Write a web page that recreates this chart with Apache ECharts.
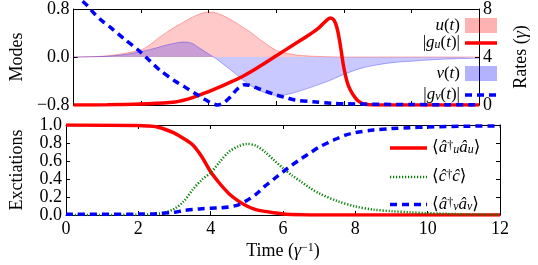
<!DOCTYPE html>
<html><head><meta charset="utf-8">
<script src="https://cdn.jsdelivr.net/npm/echarts@6/dist/echarts.min.js"></script>
<style>html,body{margin:0;padding:0;background:#fff}#c{width:538px;height:265px}</style>
</head><body><div id="c"></div>
<script>
// ---------- Top panel: modes (left axis) ----------
var tU = [0, 0.5, 1.0, 1.5, 2.0, 2.25, 2.5, 2.75, 3.0, 3.25, 3.5, 3.75, 4.0, 4.25, 4.5, 4.75, 5.0, 5.25, 5.5, 5.75, 6.0, 6.25, 6.5, 7.0, 7.5, 8.0, 12];
var uVals = [0.0, 0.005, 0.02, 0.06, 0.12, 0.20, 0.31, 0.41, 0.50, 0.58, 0.66, 0.72, 0.75, 0.73, 0.67, 0.59, 0.50, 0.41, 0.30, 0.20, 0.11, 0.07, 0.04, 0.015, 0.005, 0.0, 0.0];
var tV = [0, 0.5, 1.0, 1.5, 2.0, 2.5, 2.75, 3.0, 3.25, 3.5, 3.75, 4.0, 4.25, 4.5, 4.75, 5.0, 5.25, 5.5, 5.75, 6.0, 6.25, 6.5, 7.0, 7.5, 8.0, 8.5, 9.0, 9.5, 10.0, 10.5, 11.0, 11.5, 12];
var vVals = [0, 0.003, 0.012, 0.04, 0.09, 0.16, 0.20, 0.23, 0.25, 0.23, 0.14, 0.05, -0.04, -0.15, -0.26, -0.38, -0.48, -0.56, -0.61, -0.64, -0.63, -0.60, -0.51, -0.41, -0.29, -0.19, -0.13, -0.09, -0.07, -0.05, -0.035, -0.025, -0.02];
// ---------- Top panel: rates (right axis) ----------
var tGu = [0, 1, 2, 2.5, 3.0, 3.5, 4.0, 4.5, 5.0, 5.5, 6.0, 6.5, 7.0, 7.25, 7.45, 7.6, 7.7, 7.8, 7.9, 8.0, 8.1, 8.2, 8.3, 8.4, 8.5, 8.6, 8.8, 9, 12];
var guVals = [0.0, 0.02, 0.08, 0.15, 0.25, 0.6, 1.12, 1.72, 2.38, 3.2, 4.1, 5.0, 5.9, 6.4, 6.95, 7.25, 7.1, 6.4, 4.9, 3.1, 1.9, 1.2, 0.75, 0.4, 0.2, 0.08, 0.02, 0, 0];
var tGv = [0, 0.39, 0.62, 0.87, 1.1, 1.5, 1.93, 2.25, 2.56, 3.0, 3.29, 3.6, 3.84, 4.05, 4.27, 4.45, 4.65, 4.8, 4.93, 5.05, 5.2, 5.47, 5.75, 6.01, 6.3, 6.56, 7.1, 7.65, 8.1, 9.0, 10.0, 11, 12];
var gvVals = [9.3, 8.33, 7.6, 6.95, 6.45, 5.5, 4.54, 3.7, 2.89, 2.0, 1.51, 0.95, 0.55, 0.2, 0.0, 0.2, 0.69, 1.2, 1.51, 1.68, 1.65, 1.37, 1.08, 0.82, 0.6, 0.41, 0.27, 0.14, 0.1, 0.06, 0.04, 0.02, 0.01];
// ---------- Bottom panel: excitations ----------
var tAu = [0, 2, 2.25, 2.5, 2.75, 3.0, 3.25, 3.5, 3.75, 4.0, 4.25, 4.5, 4.75, 5.0, 5.25, 5.5, 5.75, 6.0, 6.5, 7, 12];
var auVals = [1.0, 0.995, 0.99, 0.98, 0.95, 0.91, 0.85, 0.78, 0.65, 0.48, 0.35, 0.24, 0.16, 0.10, 0.06, 0.04, 0.025, 0.012, 0.003, 0.0, 0.0];
var tC = [0, 2, 2.5, 2.75, 3.0, 3.25, 3.5, 3.75, 4.0, 4.25, 4.5, 4.75, 5.0, 5.25, 5.5, 5.75, 6.0, 6.25, 6.5, 6.75, 7.0, 7.5, 8.0, 8.5, 9.0, 9.5, 10, 11, 12];
var cVals = [0, 0.003, 0.01, 0.03, 0.07, 0.15, 0.28, 0.39, 0.47, 0.59, 0.70, 0.76, 0.79, 0.77, 0.70, 0.61, 0.52, 0.44, 0.37, 0.30, 0.24, 0.155, 0.095, 0.06, 0.042, 0.03, 0.02, 0.008, 0.003];
var tAv = [0, 2, 2.5, 3.0, 3.25, 3.5, 3.75, 4.0, 4.25, 4.5, 4.75, 5.0, 5.25, 5.5, 5.75, 6.0, 6.25, 6.5, 6.75, 7.0, 7.25, 7.5, 7.75, 8.0, 8.5, 9.0, 9.5, 10, 11, 12];
var avVals = [0.008, 0.01, 0.015, 0.03, 0.05, 0.06, 0.07, 0.075, 0.08, 0.09, 0.11, 0.16, 0.23, 0.32, 0.40, 0.48, 0.555, 0.625, 0.69, 0.755, 0.805, 0.85, 0.89, 0.915, 0.945, 0.96, 0.97, 0.978, 0.986, 0.99];
// ---------- Ticks ----------
var timeTicks = [0, 12, 2];
var modeTicks = [-0.8, 0.8, 0.8];
var rateTicks = [0, 8, 4];
var excTicks = [0, 1, 0.2];

function pairs(t, v) { return t.map(function (x, i) { return [x, v[i]]; }); }

var SERIF = '"Liberation Serif", "DejaVu Serif", serif';
var FS = 18;
function richStyles() {
  return {
    r: { fontFamily: SERIF, fontSize: 17, color: '#000', lineHeight: 16 },
    i: { fontFamily: SERIF, fontSize: 17, fontStyle: 'italic', color: '#000', lineHeight: 16 },
    sub: { fontFamily: SERIF, fontSize: 12, fontStyle: 'italic', color: '#000', verticalAlign: 'bottom', lineHeight: 8, padding: [8, 0, 0, 0] },
    sup: { fontFamily: SERIF, fontSize: 12, color: '#000', verticalAlign: 'top', lineHeight: 8, padding: [0, 0, 8, 0] }
  };
}
var legendText = {
  'u(t)': '{i|u}{r|(}{i|t}{r|)}',
  '|gu(t)|': '{r||}{i|g}{sub|u}{r|(}{i|t}{r|)|}',
  'v(t)': '{i|v}{r|(}{i|t}{r|)}',
  '|gv(t)|': '{r||}{i|g}{sub|v}{r|(}{i|t}{r|)|}',
  'au': '{r|⟨}{i|â}{sup|†}{sub|u}{i|â}{sub|u}{r|⟩}',
  'c': '{r|⟨}{i|ĉ}{sup|†}{i|ĉ}{r|⟩}',
  'av': '{r|⟨}{i|â}{sup|†}{sub|v}{i|â}{sub|v}{r|⟩}'
};
function fmtLegend(n) { return legendText[n] || n; }

function redLine() { return { color: '#ff0000', width: 3.5, type: 'solid' }; }
function blueDash() { return { color: '#0000ff', width: 3.5, type: [7, 5] }; }
function greenDot() { return { color: '#008000', width: 2.5, type: [1.2, 1.8] }; }

// one legend component per entry so each row sits exactly where it should
function legendItem(name, side, offset, top, w, icon, ls) {
  var d = { name: name };
  if (icon) { d.icon = icon; } else { d.itemStyle = { opacity: 0 }; d.lineStyle = ls; }
  var l = { orient: 'vertical', align: side === 'right' ? 'right' : 'left', top: top, itemWidth: w, itemHeight: 15, padding: 0,
    formatter: fmtLegend, textStyle: { lineHeight: 16, rich: richStyles() }, data: [d] };
  l[side] = offset;
  return l;
}

function xAx(gi, pos, labels) {
  return {
    type: 'value', gridIndex: gi, position: pos, min: timeTicks[0], max: timeTicks[1], interval: timeTicks[2],
    axisLine: { show: true, onZero: false, lineStyle: { color: '#000', width: 1 } },
    axisTick: { show: true, inside: true, length: 4, lineStyle: { color: '#000' } },
    splitLine: { show: false },
    axisLabel: { show: labels, color: '#000', fontFamily: SERIF, fontSize: FS, margin: 5 },
    name: (labels ? 'Time ({i|γ}{sup|−1})' : ''), nameLocation: 'middle', nameGap: 27,
    nameTextStyle: { color: '#000', fontFamily: SERIF, fontSize: FS, rich: { i: { fontFamily: SERIF, fontSize: FS, fontStyle: 'italic' }, sup: { fontFamily: SERIF, fontSize: 12, verticalAlign: 'top', lineHeight: 12, padding: [0, 0, 10, 0] } } }
  };
}
function yAx(gi, pos, ticks, labels, fmt, name, gap) {
  return {
    type: 'value', gridIndex: gi, position: pos, min: ticks[0], max: ticks[1], interval: ticks[2],
    axisLine: { show: true, onZero: false, lineStyle: { color: '#000', width: 1 } },
    axisTick: { show: true, inside: true, length: 4, lineStyle: { color: '#000' } },
    splitLine: { show: false },
    axisLabel: { show: labels, color: '#000', fontFamily: SERIF, fontSize: FS, margin: 4, formatter: fmt },
    name: name || '', nameLocation: 'middle', nameGap: gap || 0, nameRotate: 90,
    nameTextStyle: { color: '#000', fontFamily: SERIF, fontSize: FS, rich: { i: { fontFamily: SERIF, fontSize: FS, fontStyle: 'italic' } } }
  };
}
function f1(v) { var s = Math.abs(v).toFixed(1); return (v < -1e-9 ? '−' : '') + s; }

var chart = echarts.init(document.getElementById('c'), null, { renderer: 'canvas' });
var option = {
  animation: false,
  backgroundColor: '#fff',
  grid: [
    { left: 59, top: 8, width: 441, height: 97 },
    { left: 59, top: 125, width: 441, height: 97 }
  ],
  xAxis: [xAx(0, 'bottom', false), xAx(0, 'top', false), xAx(1, 'bottom', true), xAx(1, 'top', false)],
  yAxis: [
    yAx(0, 'left', modeTicks, true, f1, 'Modes', 40),
    yAx(0, 'right', rateTicks, true, function (v) { return String(v); }, 'Rates ({i|γ})', 33),
    yAx(1, 'left', excTicks, true, f1, 'Exctiations', 40),
    yAx(1, 'right', excTicks, false, null, '', 0)
  ],
  legend: [
    legendItem('u(t)', 'right', 41, 17, 32, 'rect'),
    legendItem('|gu(t)|', 'right', 39.25, 31, 32, null, redLine()),
    legendItem('v(t)', 'right', 41, 65, 32, 'rect'),
    legendItem('|gv(t)|', 'right', 39.25, 83, 32, null, blueDash()),
    legendItem('au', 'left', 388.25, 136, 37, null, redLine()),
    legendItem('c', 'left', 388.75, 168.5, 37, null, greenDot()),
    legendItem('av', 'left', 388.25, 192.5, 37, null, blueDash())
  ],
  series: [
    { name: 'u(t)', type: 'line', xAxisIndex: 0, yAxisIndex: 0, data: pairs(tU, uVals), smooth: 0.3, symbol: 'none',
      color: 'rgba(255,0,0,0.3)', lineStyle: { color: 'rgba(255,0,0,0.3)', width: 1 }, areaStyle: { color: 'rgba(255,0,0,0.3)' } },
    { name: 'v(t)', type: 'line', xAxisIndex: 0, yAxisIndex: 0, data: pairs(tV, vVals), smooth: 0.3, symbol: 'none',
      color: 'rgba(0,0,255,0.3)', lineStyle: { color: 'rgba(0,0,255,0.3)', width: 1 }, areaStyle: { color: 'rgba(0,0,255,0.3)' } },
    { name: '|gu(t)|', type: 'line', xAxisIndex: 0, yAxisIndex: 1, data: pairs(tGu, guVals), smooth: 0.4, symbol: 'none',
      color: '#ff0000', lineStyle: redLine() },
    { name: '|gv(t)|', type: 'line', xAxisIndex: 0, yAxisIndex: 1, data: pairs(tGv, gvVals), smooth: 0.3, symbol: 'none', clip: false,
      color: '#0000ff', lineStyle: blueDash() },
    { name: 'au', type: 'line', xAxisIndex: 2, yAxisIndex: 2, data: pairs(tAu, auVals), smooth: 0.3, symbol: 'none',
      color: '#ff0000', lineStyle: redLine() },
    { name: 'c', type: 'line', xAxisIndex: 2, yAxisIndex: 2, data: pairs(tC, cVals), smooth: 0.3, symbol: 'none',
      color: '#008000', lineStyle: greenDot() },
    { name: 'av', type: 'line', xAxisIndex: 2, yAxisIndex: 2, data: pairs(tAv, avVals), smooth: 0.3, symbol: 'none',
      color: '#0000ff', lineStyle: blueDash() }
  ]
};
chart.setOption(option);
</script>
</body></html>
